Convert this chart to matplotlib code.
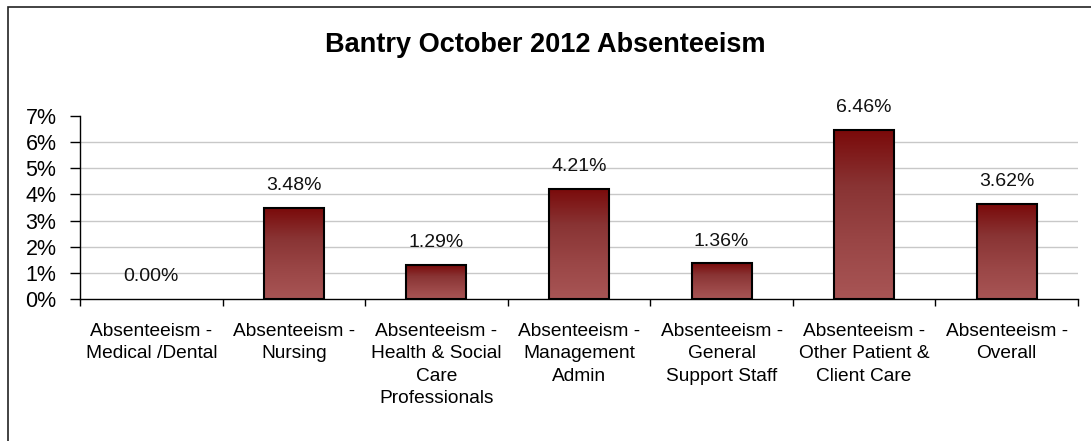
import matplotlib
matplotlib.use("Agg")
import matplotlib.pyplot as plt
import numpy as np
from matplotlib.colors import LinearSegmentedColormap
from matplotlib.patches import Rectangle

categories = [
    "Absenteeism -\nMedical /Dental",
    "Absenteeism -\nNursing",
    "Absenteeism -\nHealth & Social\nCare\nProfessionals",
    "Absenteeism -\nManagement\nAdmin",
    "Absenteeism -\nGeneral\nSupport Staff",
    "Absenteeism -\nOther Patient &\nClient Care",
    "Absenteeism -\nOverall",
]
values = [0.00, 3.48, 1.29, 4.21, 1.36, 6.46, 3.62]
y_ticks = [0, 1, 2, 3, 4, 5, 6, 7]
title = "Bantry October 2012 Absenteeism"

plt.rcParams['font.family'] = ['Liberation Sans', 'DejaVu Sans']

W, H = 1091, 441
fig = plt.figure(figsize=(W / 100, H / 100), dpi=100)
fig.patch.set_facecolor('white')

# outer border (extends beyond image on right and bottom)
fig.add_artist(Rectangle((8 / W, -0.05), 1.1, 1 - 7 / H + 0.05,
                         transform=fig.transFigure, fill=False,
                         edgecolor='#222222', linewidth=1.2))

ax = fig.add_axes([80 / W, 1 - 299 / H, (1078 - 80) / W, (299 - 116) / H])
ax.set_xlim(-0.5, len(categories) - 0.5)
ax.set_ylim(0, 7)

for s in ['top', 'right']:
    ax.spines[s].set_visible(False)
for s in ['left', 'bottom']:
    ax.spines[s].set_color('black')
    ax.spines[s].set_linewidth(1.0)

ax.set_yticks(y_ticks)
ax.set_yticklabels([f"{t}%" for t in y_ticks], fontsize=15.5)
ax.tick_params(axis='y', length=7, width=1, pad=10, colors='black')
for t in y_ticks[1:-1]:
    ax.axhline(t, color='#c8c8c8', linewidth=1, zorder=0)

# x ticks at category boundaries
x = np.arange(len(categories))
ax.set_xticks(np.arange(len(categories) + 1) - 0.5, minor=False)
ax.set_xticklabels([])
ax.tick_params(axis='x', which='major', length=5, width=1, colors='black')
ax.set_xticks(x, minor=True)
ax.set_xticklabels(categories, minor=True, fontsize=13.8, linespacing=1.42,
                   ha='center', va='top')
ax.tick_params(axis='x', which='minor', length=0, pad=17)

cmap = LinearSegmentedColormap.from_list(
    'bar', ['#a85555', '#9a4646', '#893434', '#7a0a0a'])
grad = np.linspace(0, 1, 256).reshape(-1, 1)

bars = ax.bar(x, values, width=0.42, color='none', edgecolor='black',
              linewidth=1.5, zorder=3)
for b in bars:
    h = b.get_height()
    if h <= 0:
        b.set_edgecolor('none')
        continue
    x0 = b.get_x()
    im = ax.imshow(grad, cmap=cmap, aspect='auto', origin='lower',
                   extent=(x0, x0 + b.get_width(), 0, h), zorder=2)
    im.set_clip_path(b)

for xi, v in zip(x, values):
    ax.annotate(f"{v:.2f}%", (xi, v), xytext=(0, 10), textcoords='offset points',
                ha='center', va='bottom', fontsize=14, color='#111111')

ax.set_xlim(-0.5, len(categories) - 0.5)
ax.set_ylim(0, 7)

fig.text(545 / W, 1 - 45 / H, title, ha='center', va='center',
         fontsize=19.5, fontweight='bold')

fig.savefig('out.png', dpi=100)
